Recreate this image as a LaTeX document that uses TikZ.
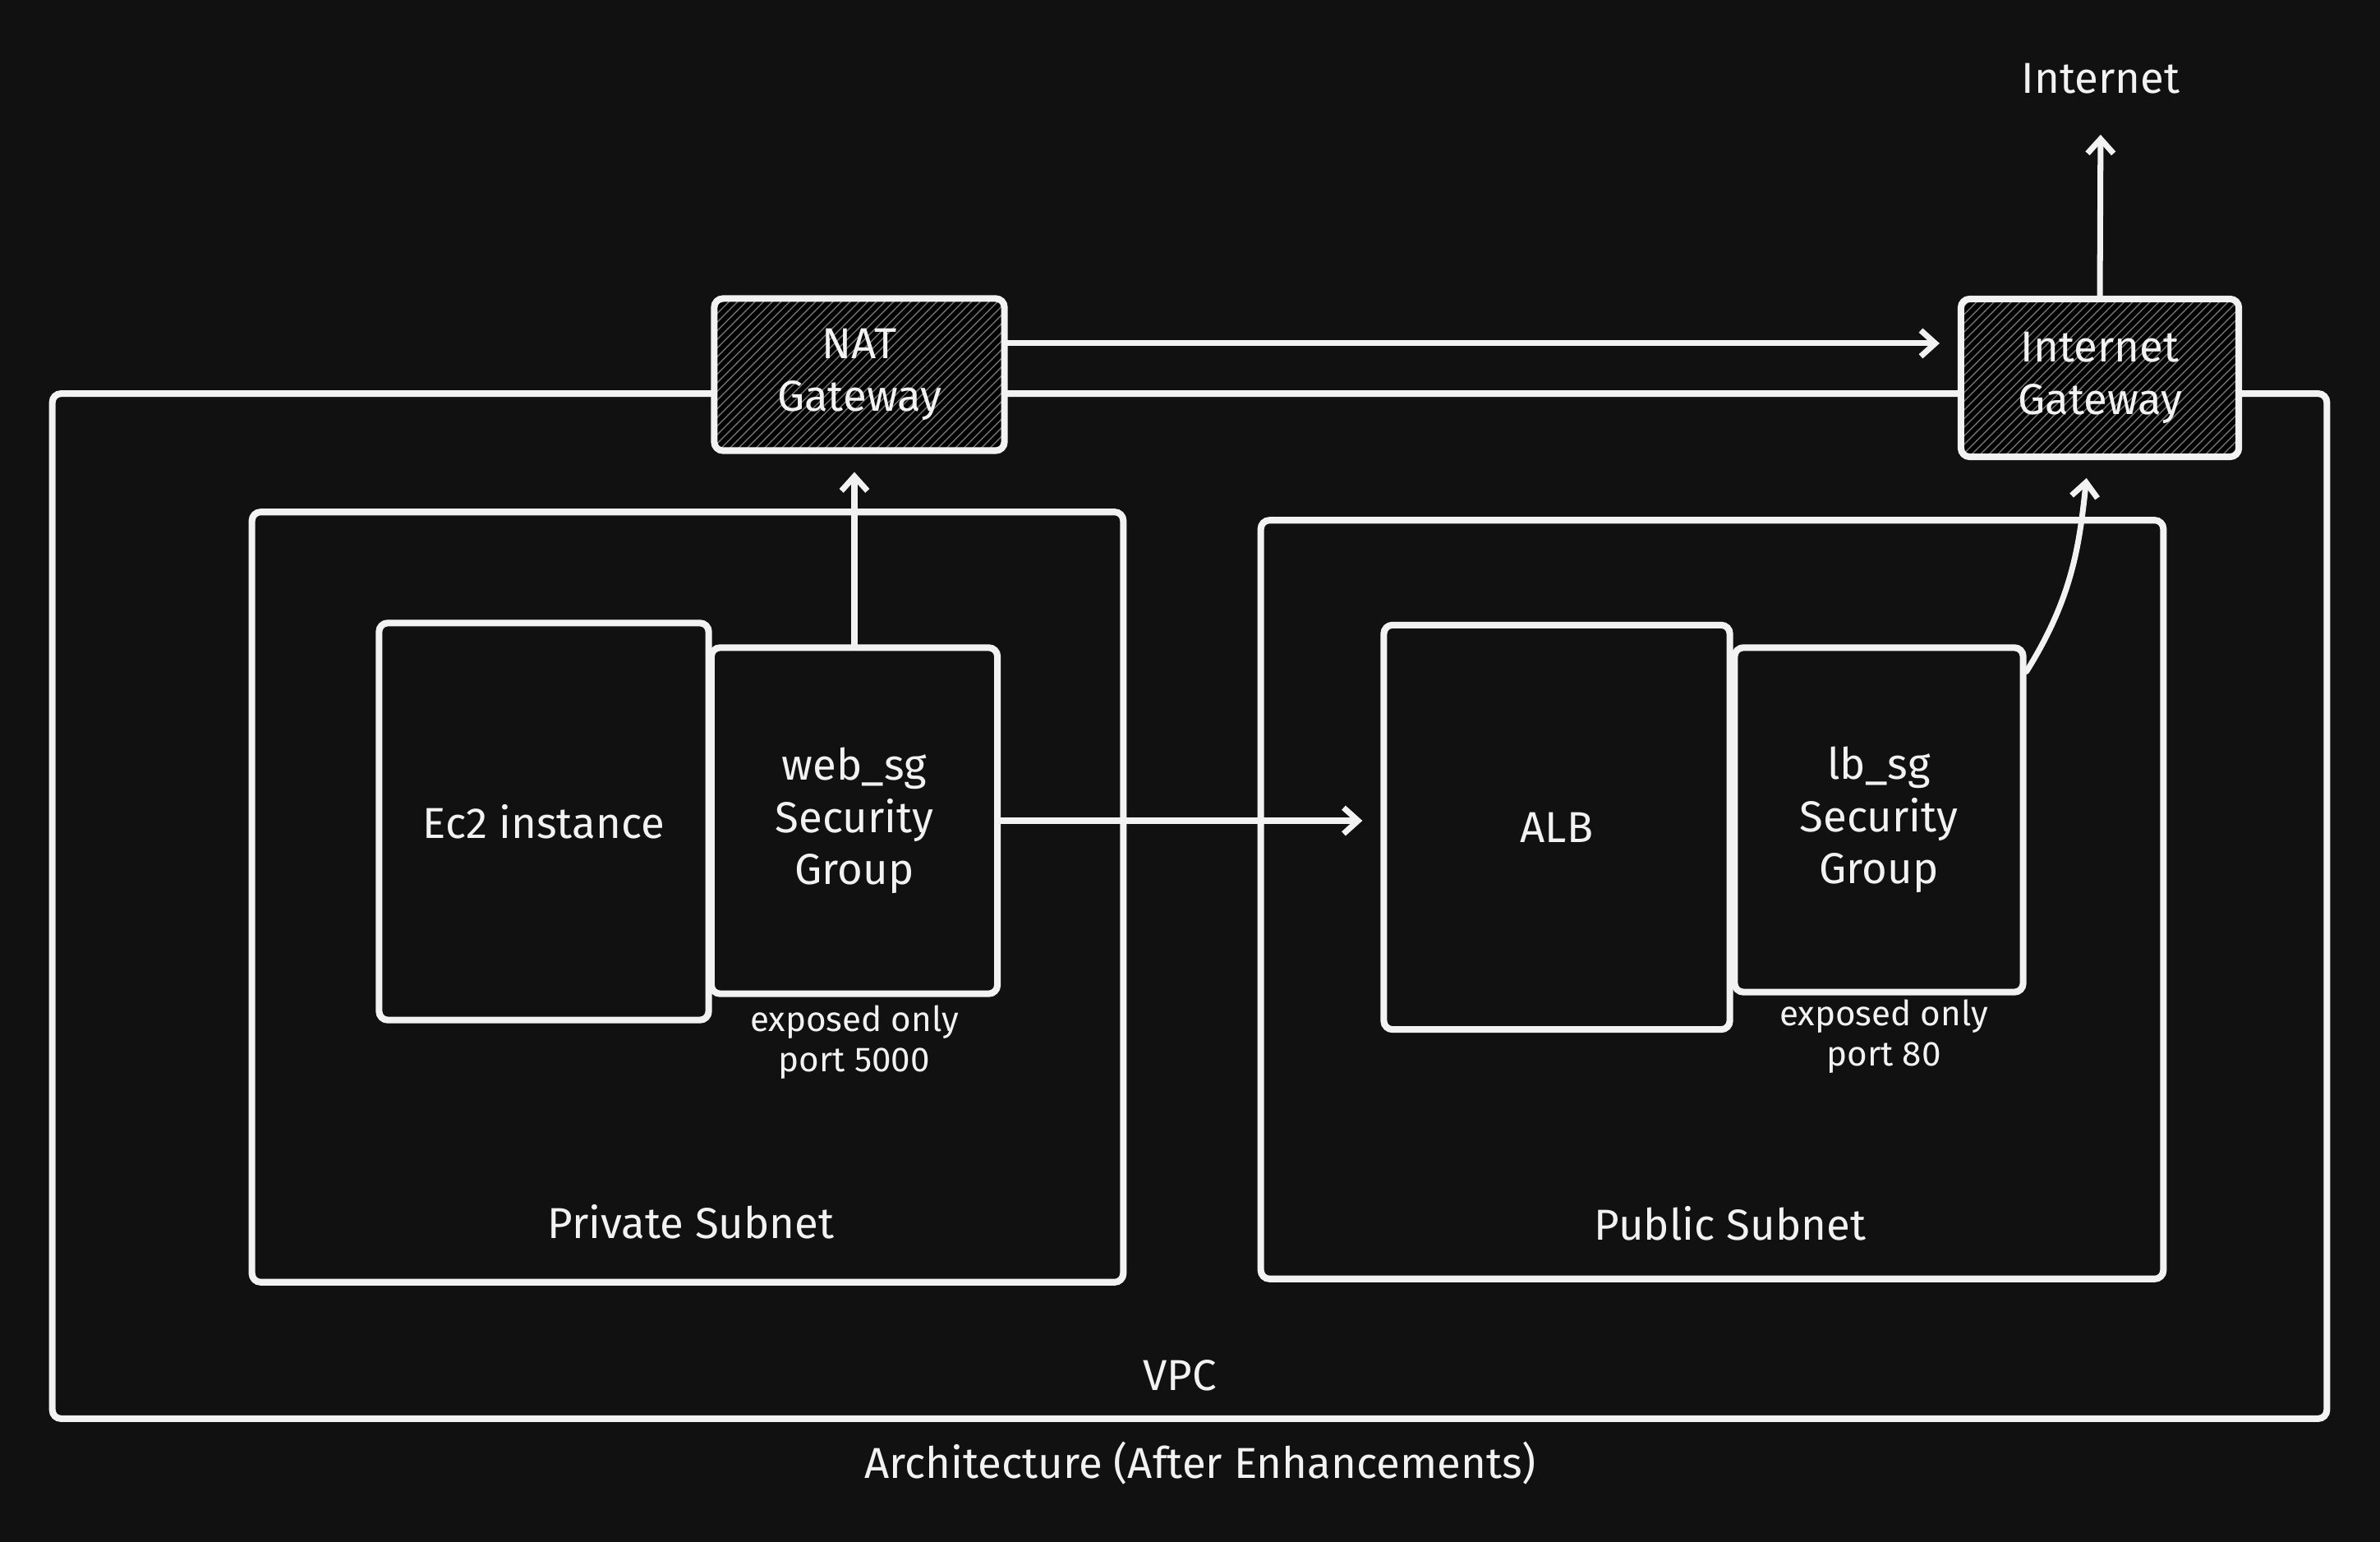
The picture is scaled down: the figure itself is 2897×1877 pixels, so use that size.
\documentclass[tikz,border=0pt]{standalone}
\usepackage{fontspec}
\setmainfont{Fira Sans}
\usetikzlibrary{arrows.meta,patterns}
\definecolor{bgc}{HTML}{111111}
\definecolor{inkc}{HTML}{F2F2F2}
\definecolor{hatchc}{HTML}{707070}
\tikzset{
  box/.style={draw=inkc, line width=2.3pt, rounded corners=3pt, inner sep=0pt, fill=bgc},
  gwbox/.style={box, preaction={fill=black}, pattern=north east lines, pattern color=hatchc, align=center},
  lbl/.style={text=inkc, align=center, font=\fontsize{15}{18}\selectfont},
  small/.style={text=inkc, align=center, font=\fontsize{12}{14}\selectfont},
  arr/.style={draw=inkc, line width=2pt, line cap=round, -{Straight Barb[length=5pt,width=9pt,line width=2pt]}, shorten >=0.22cm}
}
\begin{document}
\begin{tikzpicture}[x=0.01cm, y=-0.01cm]
\fill[bgc] (0,0) rectangle (2897,1877);
\useasboundingbox (0,0) rectangle (2897,1877);

% outer boxes
\node[box, minimum width=27.67cm, minimum height=12.47cm] (vpc) at (1448,1103) {};
\node[box, minimum width=10.60cm, minimum height=9.37cm] (priv) at (837,1092) {};
\node[box, minimum width=10.98cm, minimum height=9.23cm] (pub) at (2084,1095) {};

% inner boxes
\node[box, lbl, minimum width=4.01cm, minimum height=4.83cm] (ec2) at (662,1000) {Ec2 instance};
\node[box, lbl, minimum width=3.48cm, minimum height=4.21cm] (websg) at (1040,999) {web\_sg\\Security\\Group};
\node[box, lbl, minimum width=4.21cm, minimum height=4.92cm] (alb) at (1895,1007) {ALB};
\node[box, lbl, minimum width=3.51cm, minimum height=4.19cm] (lbsg) at (2287,998) {lb\_sg\\Security\\Group};

% gateways
\node[gwbox, lbl, minimum width=3.53cm, minimum height=1.85cm] (nat) at (1046,456) {NAT\\Gateway};
\node[gwbox, lbl, minimum width=3.38cm, minimum height=1.92cm] (igw) at (2556,460) {Internet\\Gateway};
\node[lbl] (inet) at (2557,96) {Internet};

% labels
\node[small] (webnote) at (1040,1269) {exposed only\\port 5000};
\node[small] (lbnote) at (2293,1262) {exposed only\\port 80};
\node[lbl] (privlbl) at (841,1487) {Private Subnet};
\node[lbl] (publbl) at (2106,1489) {Public Subnet};
\node[lbl] (vpclbl) at (1436,1674) {VPC};
\node[lbl] (title) at (1461,1781) {Architecture (After Enhancements)};

% connectors
\coordinate (natout) at ([yshift=0.38cm]nat.east);
\coordinate (lbsgc) at ([yshift=-0.33cm]lbsg.north east);
\path[arr] (natout) -- (igw.west |- natout);
\path[arr] (igw.north) -- ([yshift=-0.15cm]inet.south);
\path[arr] (websg.north) -- (websg.north |- nat.south);
\path[arr] (websg.east) -- (websg.east -| alb.west);
\path[arr] (lbsgc) to[out=58, in=-96] ([xshift=-0.14cm]igw.south);
\end{tikzpicture}
\end{document}
